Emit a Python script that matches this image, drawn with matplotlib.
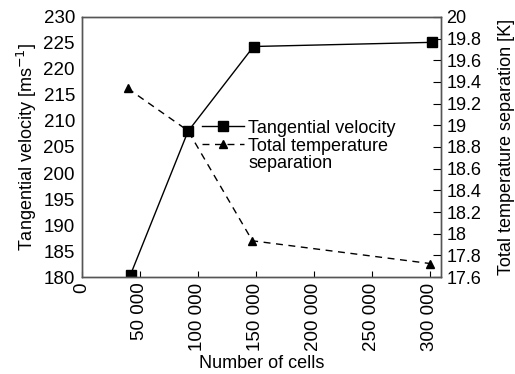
import numpy as np
import matplotlib
matplotlib.use('Agg')
import matplotlib.pyplot as plt
from matplotlib.lines import Line2D
from matplotlib.ticker import FixedLocator, FuncFormatter

plt.rcParams['font.family'] = ['Liberation Sans', 'DejaVu Sans']

# data
cells_vel = [42000, 91500, 148000, 302000]
velocity = [180.5, 208.0, 224.3, 225.1]
cells_temp = [39500, 91500, 147000, 300500]
temp_sep = [19.34, 18.95, 17.935, 17.725]

x_ticks = [0, 50000, 100000, 150000, 200000, 250000, 300000]
x_labels = ['0', '50 000', '100 000', '150 000', '200 000', '250 000', '300 000']

fig = plt.figure(figsize=(5.15, 3.74), dpi=100)
ax = fig.add_axes([0.159, 0.259, 0.697, 0.696])
ax2 = ax.twinx()

l1, = ax.plot(cells_vel, velocity, '-', color='black', lw=1.0,
              marker='s', ms=7, label='Tangential velocity')
l2, = ax2.plot(cells_temp, temp_sep, '--', color='black', lw=1.0,
               marker='^', ms=5.5, dashes=(5, 4), label='Total temperature')

ax.set_xlim(0, 309500)
ax.set_ylim(180, 230)
ax2.set_ylim(17.6, 20)

ax.set_xticks(x_ticks)
ax.set_xticklabels(x_labels, rotation=90, fontsize=13.5)
ax.tick_params(axis='x', direction='in', length=4, width=0.8, pad=4)

ax.set_yticks(np.arange(180, 231, 5))
ax.tick_params(axis='y', which='major', length=0, labelsize=13.5, pad=5)
ax.yaxis.set_minor_locator(FixedLocator([190, 200, 210, 220]))
ax.tick_params(axis='y', which='minor', direction='in', length=5, width=0.8)

ax2.set_yticks(np.arange(17.6, 20.01, 0.2))
ax2.yaxis.set_major_formatter(FuncFormatter(lambda v, p: '%g' % round(v, 1)))
ax2.tick_params(axis='y', direction='in', length=6, width=0.8, labelsize=13, pad=4)

for a in (ax, ax2):
    for s in a.spines.values():
        s.set_color('#555555')
        s.set_linewidth(1.0)

ax.set_xlabel('Number of cells', fontsize=13, labelpad=3)
ax.set_ylabel('Tangential velocity [ms$^{-1}$]', fontsize=13, labelpad=3)
ax2.set_ylabel('Total temperature separation [K]', fontsize=13, labelpad=12)

# third row only carries the wrapped word of the second label
blank = Line2D([], [], linestyle='none', marker='none')
ax.legend([l1, l2, blank], [l1.get_label(), l2.get_label(), 'separation'],
          loc='upper left', bbox_to_anchor=(0.335, 0.605), frameon=False,
          fontsize=13, handlelength=2.3, handletextpad=0.25, labelspacing=0.05,
          borderaxespad=0, borderpad=0)

fig.savefig('out.png', dpi=100)
